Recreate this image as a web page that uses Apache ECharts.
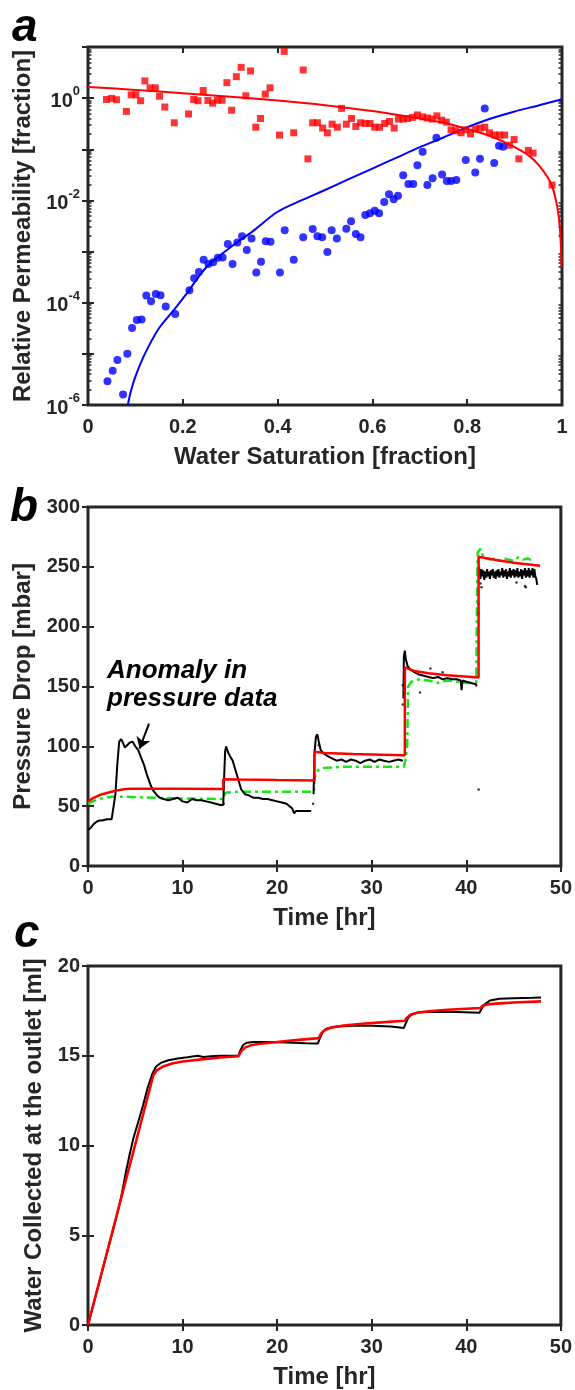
<!DOCTYPE html>
<html><head><meta charset="utf-8">
<script src="https://cdn.jsdelivr.net/npm/echarts@6/dist/echarts.min.js"></script>
<style>html,body{margin:0;padding:0;background:#fff}#c{width:575px;height:1390px}</style>
</head><body><div id="c"></div>
<script>
// ---------- Panel a: relative permeability ----------
const kroSw = [0.039,0.050,0.060,0.081,0.091,0.101,0.111,0.120,0.131,0.142,0.151,0.162,0.182,0.212,0.223,0.232,0.243,0.253,0.263,0.273,0.283,0.293,0.303,0.313,0.323,0.333,0.343,0.354,0.364,0.374,0.384,0.404,0.414,0.434,0.454,0.464,0.474,0.484,0.495,0.505,0.515,0.526,0.535,0.545,0.556,0.565,0.575,0.585,0.595,0.605,0.615,0.626,0.636,0.646,0.655,0.665,0.674,0.685,0.695,0.706,0.716,0.726,0.736,0.746,0.756,0.766,0.776,0.787,0.797,0.807,0.817,0.827,0.837,0.847,0.858,0.868,0.879,0.889,0.899,0.909,0.929,0.939,0.979];
const kroVal = [0.94,0.99,0.93,0.55,1.16,1.16,0.89,2.17,1.59,1.59,1.09,0.67,0.33,0.49,0.94,0.89,1.41,0.90,0.80,0.91,0.91,2.01,0.58,2.63,4.0,1.11,3.4,0.27,0.40,1.2,1.59,0.19,8.2,0.21,3.55,0.065,0.33,0.33,0.26,0.21,0.31,0.27,0.63,0.31,0.40,0.28,0.33,0.32,0.32,0.27,0.27,0.32,0.35,0.26,0.39,0.39,0.40,0.42,0.47,0.43,0.41,0.39,0.45,0.37,0.34,0.24,0.23,0.21,0.24,0.20,0.25,0.26,0.27,0.21,0.19,0.19,0.19,0.12,0.155,0.065,0.095,0.084,0.020];
const krwSw = [0.041,0.052,0.062,0.074,0.083,0.093,0.103,0.113,0.123,0.133,0.143,0.153,0.164,0.184,0.214,0.224,0.234,0.244,0.254,0.264,0.274,0.284,0.295,0.305,0.315,0.325,0.335,0.345,0.355,0.365,0.375,0.385,0.405,0.415,0.434,0.454,0.474,0.484,0.494,0.505,0.514,0.525,0.545,0.555,0.565,0.575,0.585,0.595,0.605,0.614,0.625,0.635,0.645,0.654,0.665,0.676,0.686,0.695,0.706,0.716,0.727,0.735,0.747,0.757,0.766,0.777,0.797,0.817,0.827,0.837,0.857,0.867,0.876];
const krwVal = [2.9e-6,4.7e-6,7.6e-6,1.6e-6,1.0e-5,3.2e-5,4.6e-5,4.7e-5,1.38e-4,1.07e-4,1.48e-4,1.4e-4,8.4e-5,6.0e-5,1.75e-4,3.0e-4,4.0e-4,6.9e-4,5.7e-4,6.2e-4,7.6e-4,7.7e-4,1.4e-3,5.7e-4,1.5e-3,2.0e-3,1.07e-3,1.8e-3,3.9e-4,6.3e-4,1.6e-3,1.55e-3,3.9e-4,2.6e-3,6.9e-4,1.9e-3,2.75e-3,2.0e-3,1.9e-3,9.8e-4,2.6e-3,1.8e-3,2.8e-3,3.9e-3,2.2e-3,1.9e-3,5.2e-3,5.6e-3,6.3e-3,5.6e-3,9.3e-3,1.32e-2,1.05e-2,1.23e-2,0.031,0.021,0.021,0.049,0.089,0.020,0.027,0.168,0.032,0.024,0.024,0.025,0.062,0.035,0.065,0.63,0.054,0.117,0.112];
const kroFitSw = [0,0.1,0.2,0.3,0.4,0.5,0.6,0.7,0.75,0.8,0.85,0.9,0.93,0.95,0.97,0.98,0.99,0.995,0.998,0.999];
const kroFitVal = [1.65,1.45,1.25,1.07,0.90,0.73,0.56,0.40,0.33,0.25,0.18,0.11,0.075,0.05,0.028,0.018,0.0075,0.0033,0.0011,0.0005];
const krwFitSw = [0.084,0.09,0.10,0.12,0.15,0.18,0.21,0.25,0.30,0.35,0.40,0.45,0.50,0.55,0.60,0.65,0.70,0.75,0.80,0.85,0.90,0.95,1.0];
const krwFitVal = [1.0e-6,1.8e-6,3.6e-6,1.0e-5,3.2e-5,7.0e-5,1.6e-4,5.0e-4,1.2e-3,2.6e-3,6.0e-3,1.0e-2,1.6e-2,2.6e-2,4.2e-2,6.8e-2,0.11,0.17,0.27,0.40,0.55,0.72,0.95];
const satTicks = [0,0.2,0.4,0.6,0.8,1];
const logDecades = [-6,-5,-4,-3,-2,-1,0];
const logMinorMult = [2,3,4,5,6,7,8,9];

// ---------- Panel b: pressure drop ----------
const pMeasT = [0,0.3,0.6,0.9,1.2,1.5,2.0,2.5,2.7,2.9,3.1,3.3,3.5,3.7,3.9,4.1,4.4,4.7,5.0,5.3,5.6,5.9,6.2,6.6,6.9,7.3,7.6,8.0,8.5,9.0,9.5,10.0,10.5,11.0,11.5,12.0,12.5,13.0,13.5,14.0,14.3,14.4,14.5,14.6,14.8,15.0,15.3,15.6,15.9,16.2,16.6,17.0,17.5,18.0,18.5,19.0,19.5,20.0,20.5,21.0,21.3,21.6,21.8,22.0,22.5,23.0,23.6,
 23.7,
 23.85,23.95,24.1,24.25,24.4,24.6,24.9,25.3,25.8,26.3,26.8,27.3,27.8,28.3,28.8,29.3,29.8,30.3,30.8,31.3,31.8,32.3,32.8,33.3,
 33.32,
 33.35,33.4,33.5,33.6,33.8,34.1,34.5,35.0,35.5,36.0,36.5,37.0,37.5,38.0,38.5,39.0,39.4,39.5,39.6,40.0,40.5,41.0,41.1,
 41.2,
 41.35,41.4,41.5,41.6,41.7,41.8,41.9,42.0,42.1,42.2,42.3,42.4,42.5,42.6,42.7,42.8,42.9,43.0,43.1,43.2,43.3,43.4,43.5,43.6,43.7,43.8,43.9,44.0,44.1,44.2,44.3,44.4,44.5,44.6,44.7,44.8,44.9,45.0,45.1,45.2,45.3,45.4,45.5,45.6,45.7,45.8,45.9,46.0,46.1,46.2,46.3,46.4,46.5,46.6,46.7,46.8,46.9,47.0,47.1,47.2,47.3,47.4,47.5];
const pMeasV = [30,32,35,37,38,38,39,39,40,60,85,104,106,103,99,98,103,104,100,97,91,85,77,68,63,59,57,56,55,56,57,54,53,56,55,55,54,53,52,51,51,75,96,100,95,92,88,80,72,64,60,59,57,57,56,56,55,54,53,52,50,48,44,46,46,46,46,
 null,
 60,95,108,110,104,97,94,92,90,88,89,87,89,88,86,88,89,87,89,88,87,88,89,88,
 null,
 140,175,180,173,167,164,162,160,159,158,157,158,156,157,156,156,155,147,155,154,153,152,150,
 null,
 250,247,240,248,242,247,239,246,241,248,242,246,240,247,243,248,241,246,240,247,242,248,241,246,243,249,241,247,242,248,240,246,242,249,241,247,243,248,241,247,242,249,241,246,242,248,240,247,243,249,241,247,242,249,241,247,243,249,241,248,242,240,235];
const pDotT = [14.35,23.8,24.4,33.3,33.3,35.1,36.2,37.5,41.3,41.3,41.3,41.6,45.3,46.2,46.3,41.5];
const pDotV = [52,52,101,151,135,145,165,162,64,211,219,233,237,234,233,236];
const pModelT = [0,0.5,1,1.5,2,2.5,3,3.5,4,4.5,6,10,14.3,14.3,16,20,23.95,23.95,25,28,31,33.5,33.5,34.5,36,38,41.3,41.3,43,45,47.8];
const pModelV = [54,56.5,58.5,60,61,62,63,63.8,64.3,64.5,64.6,64.6,64.4,72.5,72.2,71.8,71.5,95.5,94.5,93.5,93,92.5,166,163,161,159.5,157.5,258.5,256,253.5,251];
const pSimT = [0,0.5,1,1.5,2,2.5,3,4,6,8,10,12,14.35,14.45,14.7,16,20,23.9,23.95,24.1,24.4,25,27,30,33.4,33.6,33.75,33.85,34.2,35,36,37,38,39,40,41.05,41.1,41.2,41.5,41.8,42.5,43,43.5,44,44.5,45,45.5,46,46.5,47];
const pSimV = [52,54,55.5,56.5,57.3,57.8,58,57.8,57.2,56.8,56.5,56.2,56,60.5,61.5,62,62,62,73,78,80.5,82,83,83,83,90,100,150,154,156,155,153,155,154,153,153,200,262,265,258,256,257,255,257,256,255,258,256,257,255];

// ---------- Panel c: water collected ----------
const wMeasT = [0,1,2,3,3.5,4,4.4,4.8,5.3,5.8,6.3,6.8,7.2,7.7,8.5,9.5,10.5,11.6,12.2,13,14,15,15.9,16.1,16.4,16.8,17.5,19,21,23,24.3,24.5,24.8,25.2,26,28,30,32,33.4,33.6,33.9,34.3,35,37,39,41.4,41.6,41.9,42.5,43.5,45,47,47.9];
const wMeasV = [0,2.0,4.0,6.0,7.1,8.5,9.5,10.4,11.3,12.2,13.2,14.0,14.4,14.6,14.75,14.85,14.92,15.0,14.93,14.97,15.0,15.0,15.0,15.3,15.6,15.73,15.77,15.76,15.74,15.7,15.68,15.95,16.3,16.5,16.62,16.67,16.67,16.63,16.55,16.8,17.15,17.32,17.42,17.45,17.44,17.4,17.6,17.85,18.08,18.17,18.2,18.23,18.25];
const wModelT = [0,6.9,7.3,8,9,10,12,14,15.9,16.2,16.6,17.2,18,20,22,24.4,24.6,25,25.6,27,29,31,33.5,33.7,34.1,34.8,36,38,40,41.5,41.7,42.2,43.5,45,47.9];
const wModelV = [0,13.9,14.2,14.42,14.58,14.68,14.8,14.9,14.97,15.25,15.45,15.58,15.65,15.77,15.87,15.98,16.2,16.42,16.55,16.68,16.78,16.86,16.95,17.1,17.28,17.4,17.48,17.56,17.62,17.66,17.78,17.86,17.92,17.97,18.03];

// ---------- Build chart ----------
const FONT = "'Liberation Sans', Arial, sans-serif";
const AX = '#262626';
const zip = (a, b) => a.map((v, i) => [v, b[i] == null ? '-' : b[i]]);
const labelStyle = {color: AX, fontSize: 20, fontWeight: 'bold', fontFamily: FONT};
const nameStyle = {color: AX, fontSize: 24, fontWeight: 'bold', fontFamily: FONT};
const tick = {show: true, inside: true, length: 6, lineStyle: {color: AX, width: 2}};
const minorVals = [];
logDecades.forEach(e => logMinorMult.forEach(m => minorVals.push(m * Math.pow(10, e))));

const grids = [
  {left: 88, right: 13, top: 47, height: 358},
  {left: 88, right: 13, top: 507, height: 359},
  {left: 88, right: 13, top: 966, height: 359}
].map(g => Object.assign(g, {show: true, borderColor: AX, borderWidth: 3}));

function mkX(gi, min, max, interval, name, top) {
  return {type: 'value', gridIndex: gi, min, max, interval, position: top ? 'top' : 'bottom',
    axisLine: {show: false}, splitLine: {show: false}, axisTick: tick,
    axisLabel: Object.assign({show: !top, margin: 12}, labelStyle),
    name: top ? '' : name, nameLocation: 'middle', nameGap: 40, nameTextStyle: nameStyle};
}
function mkY(gi, min, max, interval, name, right, gap) {
  return {type: 'value', gridIndex: gi, min, max, interval, position: right ? 'right' : 'left',
    axisLine: {show: false}, splitLine: {show: false}, axisTick: tick,
    axisLabel: Object.assign({show: !right, margin: 8}, labelStyle),
    name: right ? '' : name, nameLocation: 'middle', nameGap: gap, nameRotate: 90, nameTextStyle: nameStyle};
}
function mkLogY(gi, right) {
  return {type: 'log', logBase: 10, gridIndex: gi, min: 1e-6, max: 10, position: right ? 'right' : 'left',
    axisLine: {show: false}, splitLine: {show: false}, axisTick: tick,
    axisLabel: {show: !right, margin: 8,
      formatter: v => { const e = Math.round(Math.log10(v)); return (e % 2 !== 0 || e > 0) ? '' : '{b|10}{s|' + e + '}'; },
      rich: {
        b: {fontSize: 20, fontWeight: 'bold', color: AX, fontFamily: FONT, lineHeight: 26, verticalAlign: 'bottom'},
        s: {fontSize: 13, fontWeight: 'bold', color: AX, fontFamily: FONT, verticalAlign: 'top'}
      }},
    name: right ? '' : 'Relative Permeability [fraction]', nameLocation: 'middle', nameGap: 52, nameRotate: 90,
    nameTextStyle: nameStyle};
}
function mkLogMinor(gi, right) {
  return {type: 'log', logBase: 10, gridIndex: gi, min: 1e-6, max: 10, position: right ? 'right' : 'left', offset: 0,
    axisLine: {show: false}, splitLine: {show: false}, axisLabel: {show: false},
    axisTick: {show: true, inside: true, length: 3.5, customValues: minorVals, lineStyle: {color: AX, width: 1.5}}};
}

const xAxis = [
  mkX(0, satTicks[0], satTicks[satTicks.length - 1], 0.2, 'Water Saturation [fraction]', false),
  mkX(1, 0, 50, 10, 'Time [hr]', false),
  mkX(2, 0, 50, 10, 'Time [hr]', false),
  mkX(0, 0, 1, 0.2, '', true),
  mkX(1, 0, 50, 10, '', true),
  mkX(2, 0, 50, 10, '', true)
];
const yAxis = [
  mkLogY(0, false),
  mkY(1, 0, 300, 50, 'Pressure Drop [mbar]', false, 52),
  mkY(2, 0, 20, 5, 'Water Collected at the outlet [ml]', false, 38),
  mkLogY(0, true),
  mkY(1, 0, 300, 50, '', true, 0),
  mkY(2, 0, 20, 5, '', true, 0),
  mkLogMinor(0, false),
  mkLogMinor(0, true)
];

const series = [
  {type: 'line', xAxisIndex: 0, yAxisIndex: 0, data: zip(kroFitSw, kroFitVal), showSymbol: false, smooth: 0.3,
    lineStyle: {color: '#ff0000', width: 2}, z: 2},
  {type: 'line', xAxisIndex: 0, yAxisIndex: 0, data: zip(krwFitSw, krwFitVal), showSymbol: false, smooth: 0.3,
    lineStyle: {color: '#0000ff', width: 2}, z: 2},
  {type: 'scatter', xAxisIndex: 0, yAxisIndex: 0, data: zip(kroSw, kroVal), symbol: 'rect', symbolSize: 7,
    itemStyle: {color: '#ff0000'}, z: 3},
  {type: 'scatter', xAxisIndex: 0, yAxisIndex: 0, data: zip(krwSw, krwVal), symbol: 'circle', symbolSize: 8,
    itemStyle: {color: '#0000ff'}, z: 3},

  {type: 'line', xAxisIndex: 1, yAxisIndex: 1, data: zip(pSimT, pSimV), showSymbol: false,
    lineStyle: {color: '#16e616', width: 2.5, type: [9, 4, 3, 4]}, z: 2},
  {type: 'line', xAxisIndex: 1, yAxisIndex: 1, data: zip(pMeasT, pMeasV), showSymbol: false, connectNulls: false,
    lineStyle: {color: '#000000', width: 2}, z: 3,
    markLine: {silent: true, symbol: ['none', 'arrow'], symbolSize: 11, animation: false,
      lineStyle: {color: '#000', width: 2, type: 'solid'}, label: {show: false},
      data: [[{coord: [6.45, 119]}, {coord: [5.45, 98]}]]}},
  {type: 'scatter', xAxisIndex: 1, yAxisIndex: 1, data: zip(pDotT, pDotV), symbolSize: 2.5,
    itemStyle: {color: '#000'}, z: 3},
  {type: 'line', xAxisIndex: 1, yAxisIndex: 1, data: zip(pModelT, pModelV), showSymbol: false,
    lineStyle: {color: '#ff0000', width: 2.5}, z: 4},

  {type: 'line', xAxisIndex: 2, yAxisIndex: 2, data: zip(wMeasT, wMeasV), showSymbol: false,
    lineStyle: {color: '#000000', width: 2}, z: 3},
  {type: 'line', xAxisIndex: 2, yAxisIndex: 2, data: zip(wModelT, wModelV), showSymbol: false,
    lineStyle: {color: '#ff0000', width: 2.6}, z: 4}
];

const letterFont = {fontSize: 46, fontWeight: 'bold', fontStyle: 'italic', fontFamily: FONT, fill: '#000'};
const annFont = {fontSize: 26, fontWeight: 'bold', fontStyle: 'italic', fontFamily: FONT, fill: '#000'};
const graphic = [
  {type: 'text', left: 12, top: 5, style: Object.assign({text: 'a'}, letterFont)},
  {type: 'text', left: 10, top: 485, style: Object.assign({text: 'b'}, letterFont)},
  {type: 'text', left: 14, top: 911, style: Object.assign({text: 'c'}, letterFont)},
  {type: 'text', left: 107, top: 658, style: Object.assign({text: 'Anomaly in'}, annFont)},
  {type: 'text', left: 107, top: 686, style: Object.assign({text: 'pressure data'}, annFont)}
];

const chart = echarts.init(document.getElementById('c'), null, {renderer: 'canvas'});
chart.setOption({animation: false, backgroundColor: '#fff', grid: grids, xAxis, yAxis, series, graphic});
</script></body></html>
